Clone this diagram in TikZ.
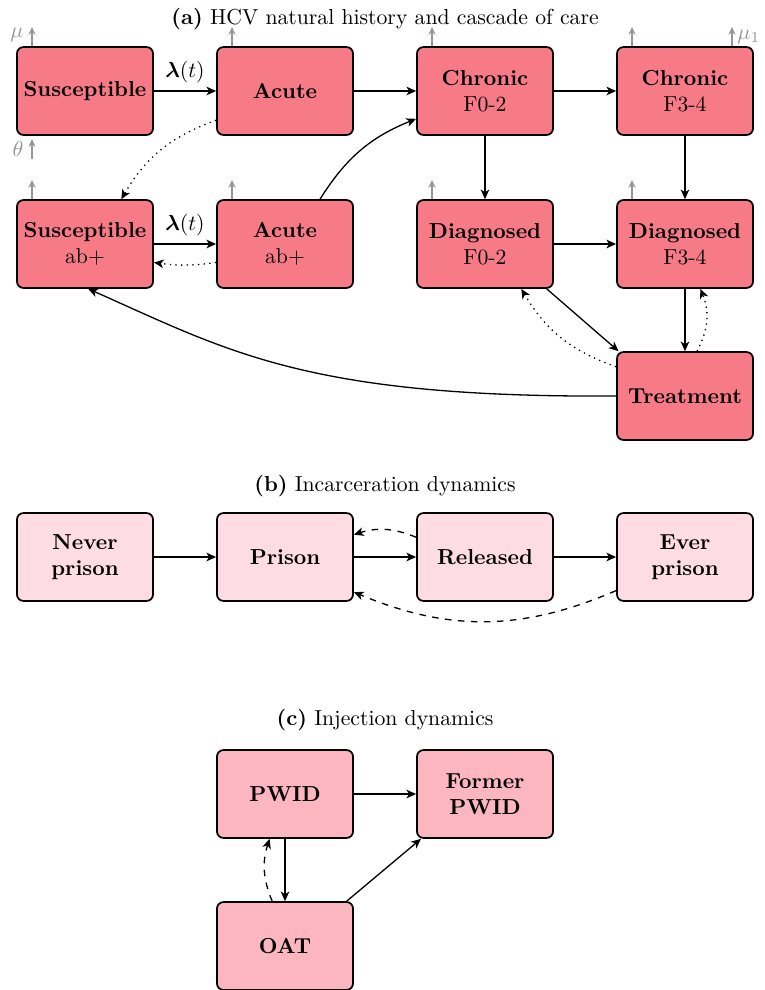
\documentclass[tikz,border=0pt]{standalone}
\usepackage{bm}
\usetikzlibrary{arrows.meta}
\definecolor{colA}{RGB}{247,123,135}
\definecolor{colB}{RGB}{253,221,227}
\definecolor{colC}{RGB}{251,182,192}
\definecolor{greyar}{RGB}{150,150,150}
\begin{document}
\begin{tikzpicture}[x=0.4608pt,y=-0.4608pt,
  box/.style={draw=black, thick, rounded corners=3pt, minimum width=62.7pt,
    minimum height=40.5pt, inner sep=1pt, align=center},
  boxA/.style={box, fill=colA},
  boxB/.style={box, fill=colB},
  boxC/.style={box, fill=colC},
  ar/.style={-{Stealth[length=4.5pt,width=4pt,inset=1.3pt]}, semithick},
  dotar/.style={ar, dotted},
  dashar/.style={ar, dashed},
  gar/.style={-{Stealth[length=3.5pt,width=3.2pt,inset=1pt]}, draw=greyar, semithick},
  glabel/.style={text=greyar, inner sep=0pt},
  ttl/.style={inner sep=0pt}
]
\useasboundingbox (0,0) rectangle (764,990);

% ---------- (a) ----------
\node[ttl] (ta) at (385,19) {\textbf{(a)} HCV natural history and cascade of care};

\node[boxA] (S)   at (85,91)  {\textbf{Susceptible}};
\node[boxA] (A)   at (285,91) {\textbf{Acute}};
\node[boxA] (C02) at (485,91) {\textbf{Chronic}\\F0-2};
\node[boxA] (C34) at (685,91) {\textbf{Chronic}\\F3-4};
\node[boxA] (Sab) at (85,244) {\textbf{Susceptible}\\ab+};
\node[boxA] (Aab) at (285,244) {\textbf{Acute}\\ab+};
\node[boxA] (D02) at (485,244) {\textbf{Diagnosed}\\F0-2};
\node[boxA] (D34) at (685,244) {\textbf{Diagnosed}\\F3-4};
\node[boxA] (T)   at (685,396) {\textbf{Treatment}};

% grey exit / entry arrows
\coordinate (g1) at (32,27);
\coordinate (g2) at (232,27);
\coordinate (g3) at (432,27);
\coordinate (g4) at (632,27);
\coordinate (g5) at (732,27);
\coordinate (g6) at (32,180);
\coordinate (g7) at (232,180);
\coordinate (g8) at (432,180);
\coordinate (g9) at (632,180);
\coordinate (th) at (32,159);
\draw[gar] (S.north -| g1) -- (g1);
\draw[gar] (A.north -| g2) -- (g2);
\draw[gar] (C02.north -| g3) -- (g3);
\draw[gar] (C34.north -| g4) -- (g4);
\draw[gar] (C34.north -| g5) -- (g5);
\draw[gar] (Sab.north -| g6) -- (g6);
\draw[gar] (Aab.north -| g7) -- (g7);
\draw[gar] (D02.north -| g8) -- (g8);
\draw[gar] (D34.north -| g9) -- (g9);
\draw[gar] (th) -- ([yshift=-1.5pt]S.south -| th);
\node[glabel] (mu) at (17,35) {$\mu$};
\node[glabel] (th0) at (18,149) {$\theta$};
\node[glabel, anchor=west] (mu1) at (737,37) {$\mu_1$};

% connectors
\draw[ar] (S) -- node[above] {$\bm{\lambda}(t)$} (A);
\draw[ar] (A) -- (C02);
\draw[ar] (C02) -- (C34);
\draw[ar] (C02) -- (D02);
\draw[ar] (C34) -- (D34);
\draw[ar] (D02) -- (D34);
\draw[ar] (D34) -- (T);
\draw[ar] (Sab) -- node[above] {$\bm{\lambda}(t)$} (Aab);
\draw[dotar] (A.203) to[bend right=20] (Sab.51);
\draw[dotar] (Aab.195) to[bend left=8] (Sab.345);
\draw[ar] (Aab.52) to[bend left=18] (C02.202);
\draw[ar] (D02.324) -- (T.146);
\draw[dotar] (T.157) to[bend left=20] (D02.309);
\draw[dotar] (T.75) to[bend right=25] (D34.289);
\draw[ar] (T.west) .. controls +(-310,2) and +(140,62) .. (Sab.274);

% ---------- (b) ----------
\node[ttl] (tb) at (385,486) {\textbf{(b)} Incarceration dynamics};
\node[boxB] (Np) at (85,557)  {\textbf{Never}\\\textbf{prison}};
\node[boxB] (P)  at (285,557) {\textbf{Prison}};
\node[boxB] (R)  at (485,557) {\textbf{Released}};
\node[boxB] (Ep) at (685,557) {\textbf{Ever}\\\textbf{prison}};
\draw[ar] (Np) -- (P);
\draw[ar] (P) -- (R);
\draw[ar] (R) -- (Ep);
\draw[dashar] (R.164) to[bend right=20] (P.18);
\draw[dashar] (Ep.206) to[bend left=23] (P.333);

% ---------- (c) ----------
\node[ttl] (tc) at (385,720) {\textbf{(c)} Injection dynamics};
\node[boxC] (PW)  at (285,794) {\textbf{PWID}};
\node[boxC] (FP)  at (485,794) {\textbf{Former}\\\textbf{PWID}};
\node[boxC] (OAT) at (285,946) {\textbf{OAT}};
\draw[ar] (PW) -- (FP);
\draw[ar] (PW) -- (OAT);
\draw[dashar] (OAT.106) to[bend left=20] (PW.251);
\draw[ar] (OAT.36) -- (FP.215);
\end{tikzpicture}
\end{document}
